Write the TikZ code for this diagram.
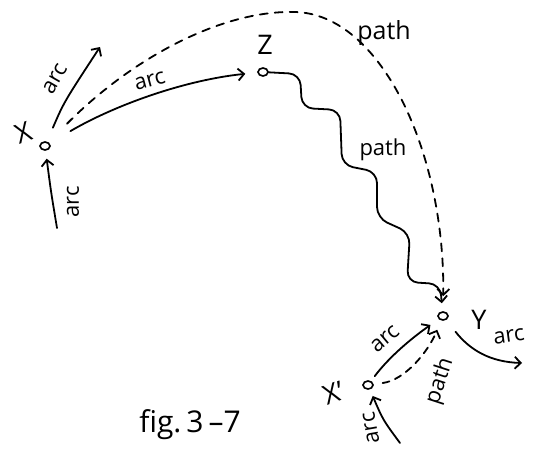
\documentclass[tikz,border=0pt]{standalone}
\usepackage{fontspec}
\setmainfont{Open Sans}
\usetikzlibrary{arrows.meta,shapes.geometric}
\begin{document}
\begin{tikzpicture}[x=1pt,y=-1pt,
  dot/.style={ellipse,draw,line width=1.6pt,inner sep=0pt,minimum width=10pt,minimum height=8pt},
  ln/.style={line width=1.8pt,line cap=round},
  arr/.style={ln,-{Straight Barb[length=6pt,width=12pt,line width=1.8pt]}},
  dsh/.style={arr,dash pattern=on 8pt off 7pt},
  lbl/.style={font=\fontsize{22}{24}\selectfont,inner sep=1pt},
  big/.style={font=\fontsize{27}{30}\selectfont,inner sep=1pt}]
\useasboundingbox (0,0) rectangle (540,450);
% nodes
\node[dot] (X) at (45,146) {};
\node[dot] (Z) at (263,72) {};
\node[dot] (Y) at (443,316) {};
\node[dot] (Xp) at (368,385) {};
\coordinate (xup) at (100,47);
\coordinate (xin) at (57,228);
\coordinate (yout) at (522,363);
\coordinate (xpin) at (400,443);
\coordinate (top) at (295,12);
% arcs around X
\draw[arr,shorten <=15pt] (X) .. controls (64,102) .. (xup);
\draw[arr,shorten >=8pt] (xin) .. controls (51,192) .. (X);
\draw[arr,shorten <=24pt,shorten >=12pt] (X) .. controls (115,105) and (185,80) .. (Z);
% dashed path X -> Y
\draw[dsh,shorten <=26pt,shorten >=15pt] (X) .. controls (130,60) and (220,10) .. (top)
   .. controls (380,14) and (445,150) .. (Y);
% wavy path Z -> Y
\draw[arr,rounded corners=11pt,shorten >=8pt] (Z) -- (300,74) -- (302,108) -- (340,110)
   -- (342,165) -- (377,172) -- (377,218) -- (410,233) -- (407,282) -- (440,284) -- (Y);
% around Y and X'
\draw[arr,shorten <=15pt] (Y) .. controls (470,350) and (490,362) .. (yout);
\draw[arr,shorten <=6pt,shorten >=10pt] (Xp) .. controls (390,356) and (412,338) .. (Y);
\draw[dsh,dash pattern=on 7pt off 6pt,shorten <=9pt,shorten >=10pt] (Xp) .. controls (405,380) and (428,352) .. (Y);
\draw[arr,shorten >=7pt] (xpin) .. controls (383,420) .. (Xp);
% labels
\node[big,rotate=20] (lX) at (24,133) {X};
\node[big] (lZ) at (265,45) {Z};
\node[big] (lY) at (479,320) {Y};
\node[big,rotate=20] (lXp) at (334,393) {X'};
\node[lbl,rotate=60] (l1) at (55,79) {arc};
\node[lbl,rotate=15] (l2) at (150,81) {arc};
\node[lbl,rotate=90] (l3) at (73,202) {arc};
\node[lbl,font=\fontsize{25}{27}\selectfont] (l4) at (384,33) {path};
\node[lbl] (l5) at (383,150) {path};
\node[lbl,rotate=8] (l6) at (509,336) {arc};
\node[lbl,rotate=40] (l7) at (385,339) {arc};
\node[lbl,rotate=72] (l8) at (440,381) {path};
\node[lbl,rotate=100] (l9) at (371,428) {arc};
\node[big,font=\fontsize{30}{32}\selectfont] (cap) at (190,425) {fig.\,3\,–7};
\end{tikzpicture}
\end{document}
